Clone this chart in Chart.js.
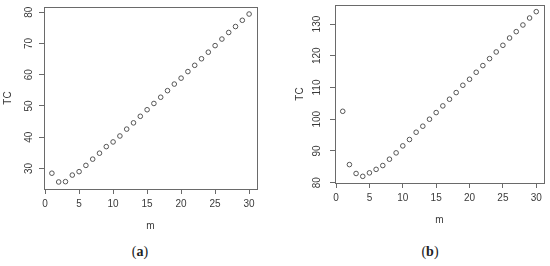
<!DOCTYPE html>
<html>
<head>
<meta charset="utf-8">
<script src="https://cdn.jsdelivr.net/npm/chart.js@4/dist/chart.umd.min.js"></script>
<style>
  body { margin: 0; background: #fff; }
  #wrap { position: relative; width: 550px; height: 266px; overflow: hidden; }
  canvas { position: absolute; top: 0; }
  #cA { left: 0; }
  #cB { left: 275px; }
  .cap { position: absolute; top: 244px; width: 40px; text-align: center;
         font-family: "Liberation Serif", "DejaVu Serif", serif; font-size: 14px; color: #222; }
  .cap b { font-weight: bold; }
</style>
</head>
<body>
<div id="wrap">
  <canvas id="cA" width="275" height="240"></canvas>
  <canvas id="cB" width="275" height="240"></canvas>
  <div class="cap" style="left:120px">(<b>a</b>)</div>
  <div class="cap" style="left:410px">(<b>b</b>)</div>
</div>
<script>
const mValues = [1,2,3,4,5,6,7,8,9,10,11,12,13,14,15,16,17,18,19,20,21,22,23,24,25,26,27,28,29,30];
const tcA = [28.5,25.7,25.8,27.9,29.0,31.0,33.0,34.9,37.0,38.5,40.4,42.6,44.6,46.7,48.8,
             50.8,52.8,54.9,57.0,58.9,61.0,63.0,65.1,67.2,69.3,71.4,73.5,75.4,77.4,79.4];
const tcB = [102.5,85.7,82.9,82.0,83.1,84.2,85.4,87.4,89.4,91.6,93.6,95.9,97.8,100.0,102.1,
             104.2,106.3,108.4,110.7,112.6,114.8,116.9,119.1,121.2,123.3,125.6,127.6,129.7,131.9,133.9];
const xTicks = [0,5,10,15,20,25,30];
const yTicksA = [30,40,50,60,70,80];
const yTicksB = [80,90,100,110,120,130];

const TXT = '#3a3a3a';
const BOX = '#6a6a6a';

// box round the plot and R-style vertical y tick labels
const rBox = {
  id: 'rBox',
  afterDraw(chart, args, opts) {
    const ctx = chart.ctx, a = chart.chartArea, ys = chart.scales.y;
    ctx.save();
    ctx.strokeStyle = BOX;
    ctx.lineWidth = 1;
    ctx.strokeRect(Math.round(a.left) + 0.5, Math.round(a.top) + 0.5,
                   Math.round(a.right - a.left), Math.round(a.bottom - a.top));
    ctx.fillStyle = TXT;
    ctx.font = '10px "Liberation Sans", Arial, sans-serif';
    ctx.textAlign = 'center';
    ctx.textBaseline = 'alphabetic';
    ys.ticks.forEach(t => {
      const py = ys.getPixelForValue(t.value);
      ctx.save();
      ctx.translate(opts.labelX, py);
      ctx.rotate(-Math.PI / 2);
      ctx.fillText(String(t.value), 0, 0);
      ctx.restore();
    });
    ctx.restore();
  }
};

function makeChart(id, ys, yTicks, yMin, yMax, L) {
  return new Chart(document.getElementById(id), {
    type: 'scatter',
    data: {
      datasets: [{
        data: mValues.map((m, i) => ({x: m, y: ys[i]})),
        pointStyle: 'circle',
        pointRadius: 2.3,
        pointBorderWidth: 1,
        pointBorderColor: '#555',
        pointBackgroundColor: 'rgba(0,0,0,0)'
      }]
    },
    options: {
      responsive: false,
      animation: false,
      events: [],
      layout: { padding: { left: L.padL, right: L.padR, top: L.top, bottom: L.padB } },
      plugins: { legend: { display: false }, tooltip: { enabled: false }, rBox: { labelX: L.labelX } },
      scales: {
        x: {
          type: 'linear',
          min: -0.16, max: 31.16,
          afterBuildTicks: s => { s.ticks = xTicks.map(v => ({value: v})); },
          afterFit: s => { s.height = L.xH; },
          border: { display: false },
          grid: { drawOnChartArea: false, drawTicks: true, tickLength: 5, color: BOX },
          ticks: { color: TXT, padding: 4, maxRotation: 0,
                   font: { family: '"Liberation Sans", Arial, sans-serif', size: 10 } },
          title: { display: true, text: 'm', color: TXT, padding: 0,
                   font: { family: '"Liberation Sans", Arial, sans-serif', size: 10 } }
        },
        y: {
          type: 'linear',
          min: yMin, max: yMax,
          afterBuildTicks: s => { s.ticks = yTicks.map(v => ({value: v})); },
          afterFit: s => { s.width = L.yW; },
          border: { display: false },
          grid: { drawOnChartArea: false, drawTicks: true, tickLength: 5, color: BOX },
          ticks: { display: false },
          title: { display: true, text: 'TC', color: TXT, padding: 0,
                   font: { family: '"Liberation Sans", Arial, sans-serif', size: 10 } }
        }
      }
    },
    plugins: [rBox]
  });
}

makeChart('cA', tcA, yTicksA, 23.45, 81.65,
  { padL: 2, padR: 18, top: 7, padB: 8, yW: 42, xH: 43, labelX: 32 });
makeChart('cB', tcB, yTicksB, 79.9, 136.0,
  { padL: 19, padR: 6, top: 5, padB: 14, yW: 41, xH: 43, labelX: 44.5 });
</script>
</body>
</html>
